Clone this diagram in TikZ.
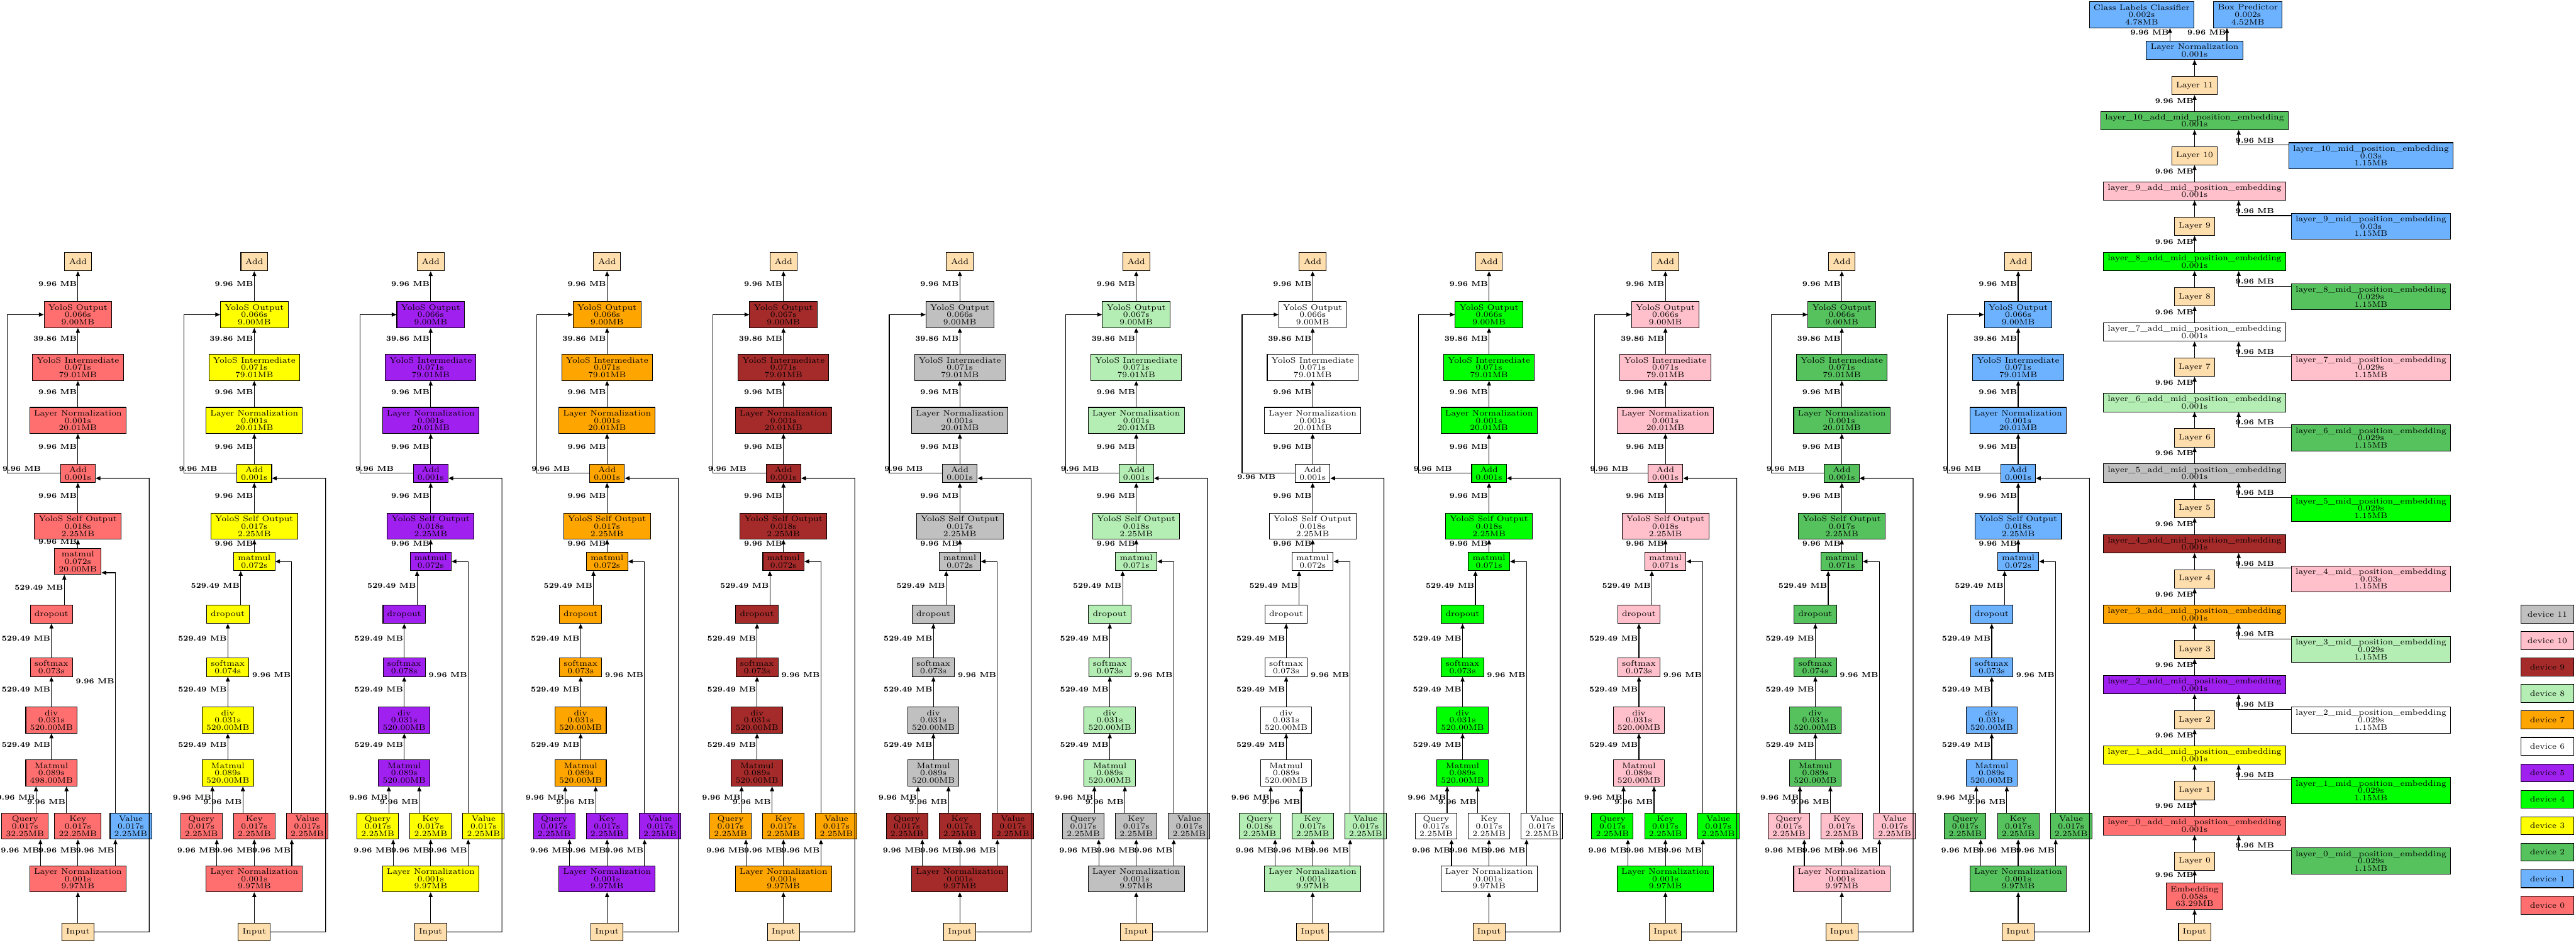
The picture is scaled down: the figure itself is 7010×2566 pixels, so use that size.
\documentclass[tikz,border=0pt]{standalone}
\usepackage{fontspec}
\usetikzlibrary{arrows.meta}
\definecolor{dev0}{RGB}{255,111,111}
\definecolor{dev1}{RGB}{108,178,255}
\definecolor{dev2}{RGB}{85,194,94}
\definecolor{dev3}{RGB}{255,255,0}
\definecolor{dev4}{RGB}{0,255,0}
\definecolor{dev5}{RGB}{160,32,240}
\definecolor{dev6}{RGB}{255,255,255}
\definecolor{dev7}{RGB}{255,165,0}
\definecolor{dev8}{RGB}{180,238,180}
\definecolor{dev9}{RGB}{165,42,42}
\definecolor{dev10}{RGB}{255,192,203}
\definecolor{dev11}{RGB}{192,192,192}
\definecolor{opc}{RGB}{255,222,173}
\newcommand\nfs{\fontsize{6.2}{5.69}\selectfont}
\newcommand\lfs{\fontsize{5.7}{6}\selectfont\bfseries}
\begin{document}
\begin{tikzpicture}[x=0.01cm,y=-0.01cm,
  box/.style={draw=black, line width=0.5pt, align=center, inner xsep=0.115cm, inner ysep=0pt, minimum height=0.5cm, minimum width=0.73cm, font=\nfs},
  box3/.style={box, minimum height=0.71cm},
  arr/.style={-{Triangle[length=0.13cm,width=0.11cm]}, line width=0.55pt},
  lb/.style={font=\lfs, inner sep=0pt},
  vl/.style={lb, midway, anchor=east, xshift=-0.02cm, yshift=0.06cm},
]
\useasboundingbox (0,0) rectangle (7010,2566);

\foreach \cN/\cT/\cB/\cV/\tOut/\tSelf/\tMm/\fMm/\tSm/\mBmm/\tQ/\mQ/\mK/\rlA/\rlY in {
 1/dev0/dev0/dev1/0.066s/0.018s/0.072s/1/0.073s/498.00MB/0.017s/32.25MB/22.25MB/south west/0.05,
 2/dev3/dev0/dev0/0.066s/0.017s/0.072s/0/0.074s/520.00MB/0.017s/2.25MB/2.25MB/south west/0.05,
 3/dev5/dev3/dev3/0.066s/0.018s/0.072s/0/0.078s/520.00MB/0.017s/2.25MB/2.25MB/south west/0.05,
 4/dev7/dev5/dev5/0.066s/0.017s/0.072s/0/0.073s/520.00MB/0.017s/2.25MB/2.25MB/south west/0.05,
 5/dev9/dev7/dev7/0.067s/0.018s/0.072s/0/0.073s/520.00MB/0.017s/2.25MB/2.25MB/south west/0.05,
 6/dev11/dev9/dev9/0.066s/0.017s/0.072s/0/0.073s/520.00MB/0.017s/2.25MB/2.25MB/south west/0.05,
 7/dev8/dev11/dev11/0.067s/0.018s/0.071s/0/0.073s/520.00MB/0.017s/2.25MB/2.25MB/south west/0.05,
 8/dev6/dev8/dev8/0.066s/0.018s/0.072s/0/0.073s/520.00MB/0.018s/2.25MB/2.25MB/north west/-0.01,
 9/dev4/dev6/dev6/0.066s/0.018s/0.071s/0/0.073s/520.00MB/0.017s/2.25MB/2.25MB/south west/0.05,
 10/dev10/dev4/dev4/0.066s/0.018s/0.071s/0/0.073s/520.00MB/0.017s/2.25MB/2.25MB/south west/0.05,
 11/dev2/dev10/dev10/0.066s/0.017s/0.071s/0/0.074s/520.00MB/0.017s/2.25MB/2.25MB/south west/0.05,
 12/dev1/dev2/dev2/0.066s/0.018s/0.072s/0/0.073s/520.00MB/0.017s/2.25MB/2.25MB/south west/0.05}{
 \pgfmathsetmacro\cx{212+480*(\cN-1)}
 \node[box, fill=opc] (addT\cN) at (\cx,712.5) {Add};
 \node[box3, fill=\cT] (out\cN) at (\cx,856.5) {YoloS Output\\\tOut\\9.00MB};
 \node[box3, fill=\cT] (inter\cN) at (\cx,1000.5) {YoloS Intermediate\\0.071s\\79.01MB};
 \node[box3, fill=\cT] (lnt\cN) at (\cx,1144.5) {Layer Normalization\\0.001s\\20.01MB};
 \node[box, fill=\cT] (add\cN) at (\cx,1288.5) {Add\\0.001s};
 \node[box3, fill=\cT] (self\cN) at (\cx,1432.5) {YoloS Self Output\\\tSelf\\2.25MB};
 \def\vy{0}
 \ifnum\fMm=1
   \node[box3, fill=\cT] (mm\cN) at (\cx,1528.5) {matmul\\\tMm\\20.00MB};
   \def\vy{-0.305}
 \else
   \node[box, fill=\cT] (mm\cN) at (\cx,1528.5) {matmul\\\tMm};
 \fi
 \node[box, fill=\cT] (drop\cN) at ({\cx-72},1672) {dropout};
 \node[box, fill=\cT] (sm\cN) at ({\cx-72},1816.5) {softmax\\\tSm};
 \node[box3, fill=\cT] (div\cN) at ({\cx-72},1960.5) {div\\0.031s\\520.00MB};
 \node[box3, fill=\cT] (bmm\cN) at ({\cx-72},2104.5) {Matmul\\0.089s\\\mBmm};
 \node[box3, fill=\cB] (q\cN) at ({\cx-144},2249) {Query\\\tQ\\\mQ};
 \node[box3, fill=\cB] (k\cN) at (\cx,2249) {Key\\0.017s\\\mK};
 \node[box3, fill=\cV] (v\cN) at ({\cx+144},2249) {Value\\0.017s\\2.25MB};
 \node[box3, fill=\cB] (lnb\cN) at (\cx,2392.5) {Layer Normalization\\0.001s\\9.97MB};
 \node[box, fill=opc, minimum height=0.47cm] (in\cN) at (\cx,2537) {Input};
 % edges
 \draw[arr] (out\cN.north) -- node[vl]{9.96 MB} (addT\cN.south);
 \draw[arr] (inter\cN.north) -- node[vl]{39.86 MB} (out\cN.south);
 \draw[arr] (lnt\cN.north) -- node[vl]{9.96 MB} (inter\cN.south);
 \draw[arr] (add\cN.north) -- node[vl]{9.96 MB} (lnt\cN.south);
 \draw[arr] (self\cN.north) -- node[vl]{9.96 MB} (add\cN.south);
 \draw[arr] (mm\cN.north) -- node[vl]{9.96 MB} (self\cN.south);
 \draw[arr] ([xshift=0.35cm]drop\cN.north) -- node[vl]{529.49 MB} ([xshift=0.35cm]drop\cN.north |- mm\cN.south);
 \draw[arr] (sm\cN.north) -- node[vl]{529.49 MB} (drop\cN.south);
 \draw[arr] (div\cN.north) -- node[vl]{529.49 MB} (sm\cN.south);
 \draw[arr] (bmm\cN.north) -- node[vl]{529.49 MB} (div\cN.south);
 \draw[arr] ([xshift=0.30cm]q\cN.north) -- node[vl]{9.96 MB} ([xshift=0.30cm]q\cN.north |- bmm\cN.south);
 \draw[arr] ([xshift=-0.31cm]k\cN.north) -- node[vl, pos=0.32]{9.96 MB} ([xshift=-0.31cm]k\cN.north |- bmm\cN.south);
 \draw[arr] ([xshift=-0.42cm]v\cN.north) |- node[vl, pos=0.27]{9.96 MB} ([yshift=\vy cm]mm\cN.east);
 \draw[arr] ([xshift=-1.02cm]lnb\cN.north) -- node[vl]{9.96 MB} ([xshift=-1.02cm]lnb\cN.north |- q\cN.south);
 \draw[arr] (lnb\cN.north) -- node[vl]{9.96 MB} (k\cN.south);
 \draw[arr] ([xshift=1.02cm]lnb\cN.north) -- node[vl]{9.96 MB} ([xshift=1.02cm]lnb\cN.north |- v\cN.south);
 \draw[arr] (in\cN.north) -- (lnb\cN.south);
 \draw[arr] (in\cN.east) -- ({\cx+194},2537) -- ({\cx+194},1302) -- ([yshift=-0.135cm]add\cN.east);
 \draw[arr] (add\cN.west) -- node[lb, pos=1, anchor=\rlA, xshift=-0.14cm, yshift=\rlY cm]{9.96 MB} ({\cx-192},1288.5) -- ({\cx-192},856.5) -- (out\cN.west);
}

% right column
\node[box3, fill=dev1] (cls) at (5828,40) {Class Labels Classifier\\0.002s\\4.78MB};
\node[box3, fill=dev1] (boxp) at (6117,40) {Box Predictor\\0.002s\\4.52MB};
\node[box, fill=dev1] (lnf) at (5972,137) {Layer Normalization\\0.001s};
\node[box, fill=opc] (L11) at (5972,233) {Layer 11};
\draw[arr] ([xshift=-0.67cm]lnf.north) -- node[vl]{9.96 MB} ([xshift=-0.67cm]lnf.north |- cls.south);
\draw[arr] ([xshift=0.88cm]lnf.north) -- node[vl]{9.96 MB} ([xshift=0.88cm]lnf.north |- boxp.south);
\draw[arr] (L11.north) -- (lnf.south);

\foreach \lN/\lA/\lM/\lT in {10/dev2/dev1/0.03s, 9/dev10/dev1/0.03s, 8/dev4/dev2/0.029s, 7/dev6/dev10/0.029s, 6/dev8/dev2/0.029s, 5/dev11/dev4/0.029s, 4/dev9/dev10/0.03s, 3/dev7/dev8/0.029s, 2/dev5/dev6/0.029s, 1/dev3/dev4/0.029s, 0/dev0/dev2/0.029s}{
  \pgfmathsetmacro\ay{328+192*(10-\lN)}
  \pgfmathsetmacro\ly{\ay+96}
  \pgfmathtruncatemacro\lUp{\lN+1}
  \node[box, fill=\lA] (ladd\lN) at (5972,\ay) {layer\_\lN\_add\_mid\_position\_embedding\\0.001s};
  \node[box, fill=opc] (L\lN) at (5972,\ly) {Layer \lN};
  \node[box3, fill=\lM] (lmid\lN) at (6452,\ly) {layer\_\lN\_mid\_position\_embedding\\\lT\\1.15MB};
  \draw[arr] (L\lN.north) -- (ladd\lN.south);
  \draw[arr] (ladd\lN.north) -- node[vl]{9.96 MB} (L\lUp.south);
  \draw[arr] ([yshift=0.29cm]lmid\lN.west) -| node[lb, pos=0.66, anchor=west, xshift=-0.09cm]{9.96 MB} ([xshift=1.2cm]ladd\lN.south);
}
\node[box3, fill=dev0] (emb) at (5972,2440) {Embedding\\0.058s\\63.29MB};
\node[box, fill=opc, minimum height=0.47cm] (inR) at (5972,2537) {Input};
\draw[arr] (emb.north) -- node[vl]{9.96 MB} (L0.south);
\draw[arr] (inR.north) -- (emb.south);

% legend
\foreach \d in {11,10,...,0}{
  \node[box, fill=dev\d, minimum width=1.44cm, minimum height=0.49cm] (leg\d) at (6932,{1672+72*(11-\d)}) {device \d};
}
\end{tikzpicture}
\end{document}
